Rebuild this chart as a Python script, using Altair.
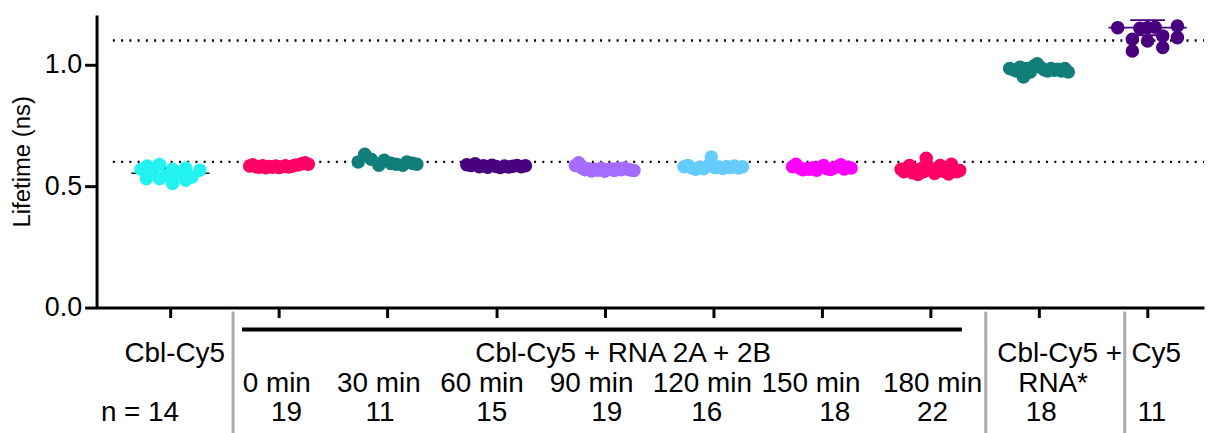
import altair as alt
import pandas as pd
import numpy as np

groups = ["Cbl-Cy5", "0 min", "30 min", "60 min", "90 min", "120 min",
          "150 min", "180 min", "Cbl-Cy5 + RNA*", "Cy5"]
colors = ["#22F2F2", "#FF0066", "#127E7A", "#48007F", "#A66BFF", "#66CCFF",
          "#FF00FF", "#FF0066", "#127E7A", "#48007F"]

# lifetimes (ns)
v_cbl = [0.570, 0.531, 0.583, 0.589, 0.531, 0.570, 0.511, 0.575, 0.525, 0.538,
         0.566, 0.545, 0.552, 0.559]
o_cbl = [-0.27, -0.22, -0.21, -0.10, -0.10, 0.02, 0.02, 0.14, 0.14, 0.20,
         0.27, -0.04, 0.08, -0.165]
v_0 = [0.583, 0.588, 0.580, 0.578, 0.584, 0.576, 0.581, 0.578, 0.583, 0.577,
       0.580, 0.584, 0.579, 0.582, 0.586, 0.588, 0.592, 0.596, 0.590]
v_30 = [0.600, 0.631, 0.611, 0.586, 0.607, 0.594, 0.590, 0.586, 0.600, 0.594, 0.590]
o_30 = [-0.27, -0.21, -0.15, -0.08, -0.03, 0.03, 0.08, 0.14, 0.18, 0.23, 0.27]
v_60 = [0.588, 0.585, 0.592, 0.580, 0.584, 0.578, 0.586, 0.581, 0.577, 0.583,
        0.579, 0.582, 0.585, 0.580, 0.584]
v_90 = [0.585, 0.596, 0.575, 0.568, 0.572, 0.563, 0.570, 0.566, 0.574, 0.562,
        0.569, 0.571, 0.565, 0.573, 0.568, 0.575, 0.570, 0.567, 0.565]
v_120 = [0.580, 0.585, 0.575, 0.570, 0.578, 0.572, 0.582, 0.620, 0.576, 0.579,
         0.573, 0.581, 0.577, 0.583, 0.575, 0.580]
v_150 = [0.580, 0.590, 0.575, 0.568, 0.572, 0.570, 0.576, 0.566, 0.578, 0.585,
         0.572, 0.569, 0.575, 0.580, 0.588, 0.571, 0.578, 0.575]
v_180 = [0.570, 0.560, 0.575, 0.585, 0.555, 0.568, 0.548, 0.572, 0.560, 0.615,
         0.578, 0.566, 0.552, 0.570, 0.585, 0.562, 0.575, 0.550, 0.590, 0.570,
         0.560, 0.565]
v_rna = [0.985, 0.980, 0.975, 0.990, 0.950, 0.985, 0.970, 0.995, 1.004, 0.990,
         0.980, 0.975, 0.985, 0.978, 0.982, 0.975, 0.985, 0.970]
v_cy5 = [1.153, 1.105, 1.057, 1.153, 1.098, 1.119, 1.071, 1.160, 1.112, 1.150, 1.155]
o_cy5 = [-0.275, -0.14, -0.14, 0.0, 0.0, 0.14, 0.14, 0.275, 0.275, -0.07, 0.07]

all_vals = [v_cbl, v_0, v_30, v_60, v_90, v_120, v_150, v_180, v_rna, v_cy5]
all_offs = [o_cbl, None, o_30, None, None, None, None, None, None, o_cy5]

# mean and SD drawn as lines
stat_groups = ["Cbl-Cy5", "Cy5"]
stat_idx = [0, 9]
stat_mean = [0.553, 1.153]
stat_sd = [0.022, 0.031]
stat_color = ["#111111", "#48007F"]

ref_lines = [0.6, 1.1]
n_counts = ["n = 14", "19", "11", "15", "19", "16", "18", "22", "18", "11"]

rows = []
for i, (vals, offs) in enumerate(zip(all_vals, all_offs)):
    if offs is None:
        offs = list(np.linspace(-0.27, 0.27, len(vals)))
    for v, o in zip(vals, offs):
        rows.append({"group": groups[i], "x": i + o, "value": v})
pts = pd.DataFrame(rows)

stats = pd.DataFrame({
    "group": stat_groups,
    "xm1": [i - 0.36 for i in stat_idx], "xm2": [i + 0.36 for i in stat_idx],
    "xc1": [i - 0.16 for i in stat_idx], "xc2": [i + 0.16 for i in stat_idx],
    "x": stat_idx,
    "mean": stat_mean,
    "lo": [m - s for m, s in zip(stat_mean, stat_sd)],
    "hi": [m + s for m, s in zip(stat_mean, stat_sd)],
    "color": stat_color,
})

XD = [-0.68, 9.52]
xs = alt.Scale(domain=XD, nice=False, zero=False)
ys = alt.Scale(domain=[0, 1.205], nice=False, zero=True)
FONT = "Liberation Sans"

base_x = alt.X("x:Q", scale=xs,
               axis=alt.Axis(values=list(range(10)), labels=False, title=None,
                             grid=False, tickSize=10, tickWidth=3, domainWidth=3,
                             domainColor="black", tickColor="black"))
base_y = alt.Y("value:Q", scale=ys,
               axis=alt.Axis(values=[0, 0.5, 1.0], format=".1f", grid=False,
                             title="Lifetime (ns)", titleFont=FONT, titleFontSize=24,
                             titleFontWeight="normal", titleColor="black",
                             titlePadding=10, labelFont=FONT, labelFontSize=27,
                             labelColor="black", labelPadding=3, tickSize=12,
                             tickWidth=3, domainWidth=3, domainColor="black",
                             tickColor="black"))

refs = alt.Chart(pd.DataFrame({"value": ref_lines, "x": [-0.53, -0.53], "x2": [XD[1], XD[1]]})).mark_rule(
    color="black", strokeWidth=2.4, strokeDash=[2, 6.3]
).encode(x=alt.X("x:Q", scale=xs), x2="x2:Q", y=alt.Y("value:Q", scale=ys))

sd_bars = alt.Chart(stats).mark_rule(strokeWidth=2).encode(
    x=alt.X("x:Q", scale=xs), y=alt.Y("lo:Q", scale=ys), y2="hi:Q",
    color=alt.Color("color:N", scale=None))
caps_hi = alt.Chart(stats).mark_rule(strokeWidth=2).encode(
    x=alt.X("xc1:Q", scale=xs), x2="xc2:Q", y=alt.Y("hi:Q", scale=ys),
    color=alt.Color("color:N", scale=None))
caps_lo = alt.Chart(stats).mark_rule(strokeWidth=2).encode(
    x=alt.X("xc1:Q", scale=xs), x2="xc2:Q", y=alt.Y("lo:Q", scale=ys),
    color=alt.Color("color:N", scale=None))
mean_l = alt.Chart(stats).mark_rule(strokeWidth=1.6).encode(
    x=alt.X("xm1:Q", scale=xs), x2="xm2:Q", y=alt.Y("mean:Q", scale=ys),
    color=alt.Color("color:N", scale=None))

points = alt.Chart(pts).mark_circle(size=185, opacity=1).encode(
    x=base_x, y=base_y,
    color=alt.Color("group:N", scale=alt.Scale(domain=groups, range=colors), legend=None))

# bottom annotation
sep = alt.Chart(pd.DataFrame({"x": [0.577, 7.51, 8.79]})).mark_rule(
    color="#AAAAAA", strokeWidth=3).encode(
    x=alt.X("x:Q", scale=xs), y=alt.value(298), y2=alt.value(432))
bracket = alt.Chart(pd.DataFrame({"x": [0.66], "x2": [7.29]})).mark_rule(
    color="black", strokeWidth=4).encode(
    x=alt.X("x:Q", scale=xs), x2="x2:Q", y=alt.value(316))

row1 = pd.DataFrame({"t": ["Cbl-Cy5", "Cbl-Cy5 + RNA 2A + 2B", "Cbl-Cy5 +", "Cy5"],
                     "x": [0.04, 4.17, 8.19, 9.08]})
row2 = pd.DataFrame({"t": ["0 min", "30 min", "60 min", "90 min", "120 min", "150 min",
                           "180 min", "RNA*"],
                     "x": [0.98, 1.92, 2.87, 3.88, 4.90, 5.90, 7.02, 8.13]})
row3 = pd.DataFrame({"t": n_counts,
                     "x": [-0.28, 1.07, 1.93, 2.96, 4.02, 4.94, 6.12, 7.02, 8.02, 9.04]})


def txt(df, ypix):
    return alt.Chart(df).mark_text(font=FONT, fontSize=28, color="black",
                                   baseline="middle", align="center").encode(
        x=alt.X("x:Q", scale=xs), y=alt.value(ypix), text="t:N")


chart = alt.layer(
    refs, sd_bars, caps_hi, caps_lo, mean_l, points, sep, bracket,
    txt(row1, 341), txt(row2, 371), txt(row3, 400)
).properties(
    width=1113, height=294,
    autosize=alt.AutoSizeParams(type="none"),
    padding={"left": 89, "top": 6, "right": 2, "bottom": 125},
).configure_view(stroke=None)

chart.save("out.html", embed_options={"renderer": "svg", "actions": False})
